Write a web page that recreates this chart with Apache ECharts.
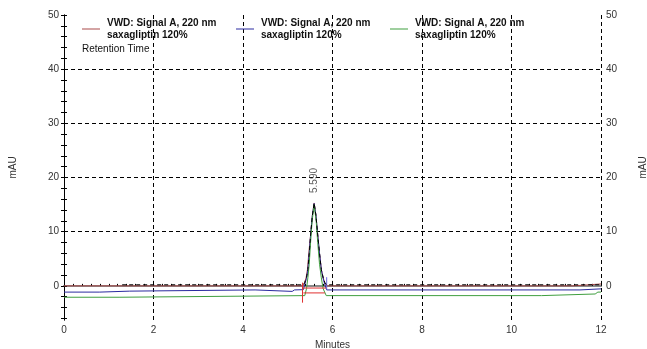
<!DOCTYPE html>
<html>
<head>
<meta charset="UTF-8">
<title>saxagliptin 120%</title>
<script src="https://cdn.jsdelivr.net/npm/echarts@6/dist/echarts.min.js"></script>
<style>
  html, body { margin: 0; padding: 0; background: #fff; }
  #chart { width: 647px; height: 349px; }
</style>
</head>
<body>
<div id="chart"></div>
<script>
// axis ticks
var xMin = 0, xMax = 12, xStep = 2;
var yMin = -6.3, yMax = 50;
var yLabelValues = [0, 10, 20, 30, 40, 50];
var yTickValues = [-6, -4, -2, 0, 2, 4, 6, 8, 10, 12, 14, 16, 18, 20, 22, 24, 26, 28, 30,
                   32, 34, 36, 38, 40, 42, 44, 46, 48, 50];
var yGridValues = [10, 20, 30, 40];

// legend text (same for all three runs)
var legendText = ['VWD: Signal A, 220 nm', 'saxagliptin 120%'];
var seriesNames = ['run1', 'run2', 'run3'];

// traces [minutes, mAU]
var redTrace = [[0, 0.0], [5.34, 0.0], [5.37, 0.5], [5.41, 1.5], [5.44, 3], [5.47, 6], [5.515, 9.8],
  [5.55, 13], [5.59, 15.3], [5.63, 13], [5.665, 9.8], [5.71, 6], [5.75, 3], [5.79, 1.5], [5.83, 0.5],
  [5.87, 0.0], [11.37, 0.0], [11.37, 0.35], [12, 0.35]];
var blueTrace = [[0, -1.15], [0.8, -1.15], [0.8, -0.97], [1.47, -0.97], [1.47, -0.75], [4.27, -0.75],
  [4.27, -1.02], [5.1, -1.02], [5.15, -0.75], [5.35, -0.7], [5.38, 0.3], [5.42, 1.4], [5.45, 3],
  [5.48, 6], [5.515, 9.8], [5.55, 13], [5.59, 15.2], [5.63, 13], [5.665, 9.8], [5.71, 6], [5.75, 3],
  [5.79, 1.4], [5.83, 0.2], [5.87, -0.75], [11.53, -0.75], [11.53, -0.55], [12, -0.55]];
var greenTrace = [[0, -2.1], [1.25, -2.1], [1.25, -1.8], [5.38, -1.8], [5.42, -0.5], [5.45, 1.5],
  [5.48, 4], [5.51, 8], [5.545, 12], [5.59, 15.0], [5.635, 12], [5.67, 8], [5.71, 4], [5.75, 1.5],
  [5.79, -0.5], [5.86, -1.8], [10.67, -1.8], [10.67, -1.5], [11.87, -1.5], [11.93, -1.15], [12, -1.15]];
var dashedTrace = [[1.3, 0.2], [5.35, 0.2], [5.38, 0.6], [5.42, 1.6], [5.45, 3], [5.48, 6],
  [5.515, 9.8], [5.55, 13], [5.59, 15.3], [5.63, 13], [5.665, 9.8], [5.71, 6], [5.75, 3], [5.79, 1.6],
  [5.83, 0.6], [5.87, 0.2], [12, 0.2]];

// integration marks
var redStartTick = [[5.33, 0.6], [5.33, -3.1]];
var redBase1 = [[5.33, -0.4], [5.87, -0.4]];
var redBase2 = [[5.35, -1.3], [5.83, -1.3]];
var blueEndTick = [[5.87, 1.6], [5.87, -0.7]];

// peak label
var peakTimes = [5.59];
var peakHeights = [15.3];
var peakLabels = ['5.590'];

var FONT = '"Liberation Sans", Arial, sans-serif';
var colors = ['#a84848', '#2a2aa0', '#3f9f3f'];

var chart = echarts.init(document.getElementById('chart'), null, { renderer: 'canvas' });

function legendFor(i, left) {
  return {
    left: left, top: 17, padding: 0, orient: 'vertical',
    itemWidth: 18, itemHeight: 10, selectedMode: false,
    data: [{ name: seriesNames[i], icon: 'path://M0,5L18,5L18,6L0,6Z' }],
    formatter: function () { return legendText.join('\n'); },
    textStyle: { fontFamily: FONT, fontSize: 10, fontWeight: 'bold', color: '#111', lineHeight: 12, padding: [0, 0, 0, 2] }
  };
}

function trace(name, data, color, z) {
  return {
    name: name, type: 'line', data: data, symbol: 'none', z: z,
    lineStyle: { color: color, width: 1 }, itemStyle: { color: color }, animation: false
  };
}

function mark(data, color) {
  return {
    type: 'line', data: data, symbol: 'none', z: 6, silent: true,
    lineStyle: { color: color, width: 1 }, animation: false
  };
}

var yAxisBase = {
  type: 'value', min: yMin, max: yMax,
  name: 'mAU', nameLocation: 'middle',
  nameTextStyle: { fontFamily: FONT, fontSize: 10, color: '#333' },
  axisLine: { show: true, lineStyle: { color: '#000', width: 1 } },
  axisTick: { show: true, length: 3, customValues: yTickValues, lineStyle: { color: '#000' } },
  axisLabel: { customValues: yLabelValues, margin: 5, fontFamily: FONT, fontSize: 10, color: '#333' },
  splitLine: { show: false }
};

var option = {
  backgroundColor: '#fff',
  animation: false,
  title: {
    text: 'Retention Time', left: 82, top: 44, padding: 0,
    textStyle: { fontFamily: FONT, fontSize: 10, fontWeight: 'normal', color: '#111' }
  },
  legend: [legendFor(0, 82), legendFor(1, 236), legendFor(2, 390)],
  grid: { left: 64, right: 46, top: 15, bottom: 29, outerBoundsMode: 'none', containLabel: false },
  xAxis: [{
    type: 'value', min: xMin, max: xMax, interval: xStep,
    name: 'Minutes', nameLocation: 'middle', nameGap: 14,
    nameTextStyle: { fontFamily: FONT, fontSize: 10, color: '#333' },
    axisLine: { lineStyle: { color: '#8a8a8a', width: 2 } },
    axisTick: { inside: true, length: 5, lineStyle: { color: '#000' } },
    minorTick: { show: true, splitNumber: 10, length: 2, lineStyle: { color: '#000' } },
    axisLabel: { margin: 5, fontFamily: FONT, fontSize: 10, color: '#333' },
    splitLine: { show: true, lineStyle: { color: '#000', type: [4, 3], width: 1 } }
  }, {
    type: 'value', min: xMin, max: xMax, position: 'top',
    axisLine: { show: true, lineStyle: { color: '#8a8a8a', width: 2 } },
    axisTick: { show: false }, axisLabel: { show: false }, splitLine: { show: false }
  }],
  yAxis: [
    Object.assign({}, yAxisBase, { position: 'left', nameGap: 46 }),
    Object.assign({}, yAxisBase, { position: 'right', nameGap: 37 })
  ],
  series: [
    {
      type: 'line', data: [], silent: true, z: 1,
      markLine: {
        symbol: 'none', silent: true, animation: false, label: { show: false },
        lineStyle: { color: '#000', type: [4, 3], width: 1 },
        data: yGridValues.map(function (v) { return { yAxis: v }; })
      }
    },
    trace(seriesNames[0], redTrace, colors[0], 3),
    trace(seriesNames[1], blueTrace, colors[1], 4),
    trace(seriesNames[2], greenTrace, colors[2], 5),
    {
      type: 'line', data: dashedTrace, symbol: 'none', z: 7, silent: true,
      lineStyle: { color: '#000', width: 1, type: [4, 3] }, animation: false
    },
    mark(redStartTick, '#e03030'),
    mark(redBase1, '#e03030'),
    mark(redBase2, '#e03030'),
    mark(blueEndTick, '#6a6ae0'),
    {
      type: 'scatter', symbol: 'circle', symbolSize: 0, z: 8, silent: true,
      itemStyle: { color: 'rgba(0,0,0,0)' },
      data: peakTimes.map(function (t, i) { return [t, peakHeights[i]]; }),
      label: {
        show: true, position: 'top', distance: 10, rotate: 90, align: 'left', verticalAlign: 'middle',
        fontFamily: FONT, fontSize: 10, color: '#333',
        formatter: function (p) { return peakLabels[p.dataIndex]; }
      }
    }
  ]
};

chart.setOption(option);
</script>
</body>
</html>
